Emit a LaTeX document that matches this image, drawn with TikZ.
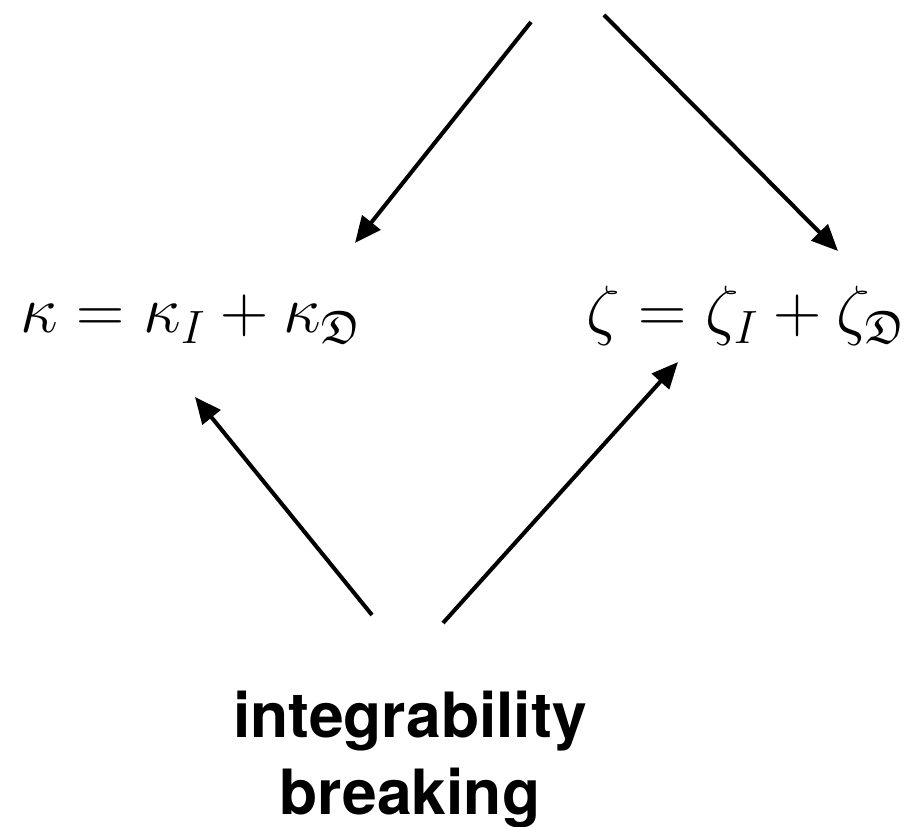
\documentclass[tikz,border=0pt]{standalone}
\usepackage{amssymb}
\usepackage{anyfontsize}
\usepackage{fontspec}
\newfontfamily\heros{TeX Gyre Heros}
\usetikzlibrary{arrows.meta,positioning}
\tikzset{
  flow/.style={
    line width=2.3pt,
    -{Triangle[length=15pt,width=13pt]}
  },
  formula/.style={
    inner sep=0pt,
    font=\fontsize{38}{44}\selectfont
  },
  caption/.style={
    inner sep=0pt,
    align=center,
    font=\fontsize{35.5}{44}\selectfont\heros\bfseries
  }
}

\begin{document}
\begin{tikzpicture}
        \useasboundingbox (0,0) rectangle (18.2,16.54);

        \node[formula, anchor=base west] (kappa) at (0.40,9.88) {$\kappa = \kappa_I + \kappa_{\mathfrak{D}}$};
        \node[formula, anchor=base east] (zeta) at (18.10,9.88) {$\zeta = \zeta_I + \zeta_{\mathfrak{D}}$};
        \node[caption, anchor=base] (breaking) at (8.20,0.24) {integrability\\breaking};

        \coordinate (topL) at (10.62,16.10);
        \coordinate (topR) at (12.08,16.24);
        \coordinate (kappaIn) at (7.10,11.68);
        \coordinate (zetaIn) at (16.76,11.52);
        \coordinate (kappaUp) at (3.90,8.60);
        \coordinate (zetaUp) at (13.56,9.30);
        \coordinate (breakL) at (7.44,4.24);
        \coordinate (breakR) at (8.86,4.08);

        \draw[flow] (topL) -- (kappaIn);
        \draw[flow] (topR) -- (zetaIn);
        \draw[flow] (breakL) -- (kappaUp);
        \draw[flow] (breakR) -- (zetaUp);
\end{tikzpicture}
\end{document}
